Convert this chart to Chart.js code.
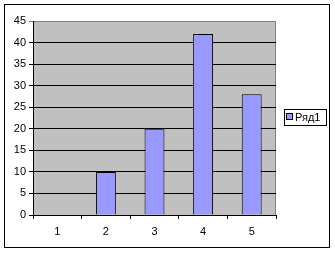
<!DOCTYPE html>
<html>
<head>
<meta charset="utf-8">
<script src="https://cdn.jsdelivr.net/npm/chart.js@4"></script>
<style>
  html, body { margin: 0; padding: 0; background: #fff; }
  #wrap { width: 335px; height: 253px; }
</style>
</head>
<body>
<div id="wrap"><canvas id="mycanvas" width="335" height="253"></canvas></div>
<script>
// data
var categories = ["1", "2", "3", "4", "5"];
var seriesName = "Ряд1";
var seriesValues = [0, 10, 20, 42, 28];
var yTicks = [0, 5, 10, 15, 20, 25, 30, 35, 40, 45];

var FONT = 'Arial, "Liberation Sans", sans-serif';

// draws the outer frame, grey plot area and the small legend box
var excelLook = {
  id: "excelLook",
  beforeDraw: function (chart) {
    var c = chart.ctx, a = chart.chartArea;
    c.save();
    c.fillStyle = "#fff";
    c.fillRect(0, 0, chart.width, chart.height);
    c.strokeStyle = "#000";
    c.lineWidth = 1;
    c.strokeRect(4.5, 4.5, 325, 243);
    c.fillStyle = "#c0c0c0";
    c.fillRect(a.left, a.top, a.right - a.left, a.bottom - a.top);
    c.strokeStyle = "#808080";
    c.beginPath();
    c.moveTo(a.left, a.top + 0.5);
    c.lineTo(a.right - 0.5, a.top + 0.5);
    c.lineTo(a.right - 0.5, a.bottom);
    c.stroke();
    c.restore();
  },
  afterDraw: function (chart) {
    var c = chart.ctx;
    var ds = chart.data.datasets[0];
    c.save();
    c.strokeStyle = "#000";
    c.lineWidth = 1;
    c.strokeRect(284.5, 109.5, 42, 16);
    c.fillStyle = ds.backgroundColor;
    c.fillRect(287, 114, 6, 6);
    c.strokeRect(286.5, 113.5, 6, 6);
    c.fillStyle = "#000";
    c.font = "11px " + FONT;
    c.textBaseline = "middle";
    c.fillText(ds.label, 295, 117.5);
    c.restore();
  }
};

var ctx = document.getElementById("mycanvas");
var chart = new Chart(ctx, {
  type: "bar",
  data: {
    labels: categories,
    datasets: [{
      label: seriesName,
      data: seriesValues,
      backgroundColor: "#9999ff",
      borderColor: "#000",
      borderWidth: 1,
      categoryPercentage: 0.41,
      barPercentage: 1
    }]
  },
  options: {
    responsive: false,
    animation: false,
    devicePixelRatio: 1,
    layout: { padding: { left: 0, top: 21, right: 59, bottom: 0 } },
    plugins: { legend: { display: false }, tooltip: { enabled: false } },
    scales: {
      x: {
        grid: { display: true, drawOnChartArea: false, offset: true, color: "#000", tickLength: 4 },
        border: { color: "#000" },
        ticks: { color: "#000", font: { family: FONT, size: 11 }, padding: 6 },
        afterFit: function (s) { s.height = 38; }
      },
      y: {
        min: 0,
        max: 45,
        afterBuildTicks: function (s) { s.ticks = yTicks.map(function (v) { return { value: v }; }); },
        grid: {
          color: function (g) { return g.tick && g.tick.value === 45 ? "#808080" : "#000"; },
          tickLength: 4
        },
        border: { color: "#000" },
        ticks: { color: "#000", font: { family: FONT, size: 11 }, padding: 3 },
        afterFit: function (s) { s.width = 33; }
      }
    }
  },
  plugins: [excelLook]
});
</script>
</body>
</html>
